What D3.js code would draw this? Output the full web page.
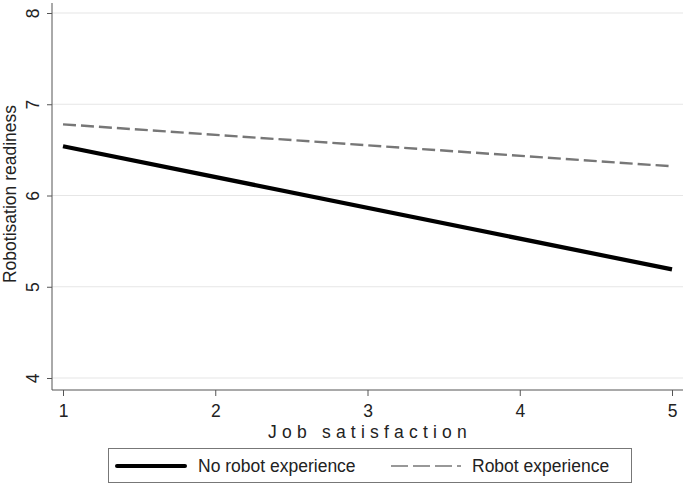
<!DOCTYPE html>
<html><head><meta charset="utf-8">
<script src="https://cdn.jsdelivr.net/npm/d3@7"></script>
<style>body{margin:0;background:#fff}svg{display:block}text{font-family:"Liberation Sans",Arial,sans-serif}</style>
</head><body>
<script>
const xTicks = [1, 2, 3, 4, 5];
const yTicks = [4, 5, 6, 7, 8];
const seriesNames = ["No robot experience", "Robot experience"];
const noRobot = [6.54, 5.19];
const robot = [6.78, 6.32];
const xEnds = [1, 5];

const W = 685, H = 485;
const FS = 17.5;
const svg = d3.select("body").append("svg").attr("width", W).attr("height", H);
const x = d3.scaleLinear().domain([1, 5]).range([63, 672]);
const y = d3.scaleLinear().domain([4, 8]).range([378, 13]);
const left = 52, bottom = 390, right = 683;

// gridlines
svg.append("g").selectAll("line").data(yTicks).join("line")
  .attr("x1", left).attr("x2", right).attr("y1", d => y(d)).attr("y2", d => y(d))
  .attr("stroke", "#e6e6e6").attr("stroke-width", 1.2);

// y axis
const ya = svg.append("g").attr("transform", `translate(${left},0)`)
  .call(d3.axisLeft(y).tickValues(yTicks).tickSize(5).tickFormat(d3.format("d")));
ya.select(".domain").attr("d", `M0,3V${bottom}`).attr("stroke", "#555");
ya.selectAll(".tick line").attr("stroke", "#555");
ya.selectAll(".tick text").attr("font-size", FS).attr("fill", "#222")
  .attr("transform", "rotate(-90)").attr("x", 0).attr("y", -13).attr("dy", "0")
  .attr("text-anchor", "middle");

// x axis
const xa = svg.append("g").attr("transform", `translate(0,${bottom})`)
  .call(d3.axisBottom(x).tickValues(xTicks).tickSize(6).tickFormat(d3.format("d")));
xa.select(".domain").attr("d", `M${left},0H${right}`).attr("stroke", "#555");
xa.selectAll(".tick line").attr("stroke", "#555");
xa.selectAll(".tick text").attr("font-size", FS).attr("fill", "#222").attr("y", 27).attr("dy", "0");

// titles
svg.append("text").attr("x", 370).attr("y", 438).attr("text-anchor", "middle")
  .attr("font-size", FS).attr("letter-spacing", "5.2px").attr("fill", "#222").text("Job satisfaction");
svg.append("text").attr("transform", `translate(16,${194}) rotate(-90)`).attr("text-anchor", "middle")
  .attr("font-size", FS).attr("fill", "#222").text("Robotisation readiness");

// lines
const line = d3.line().x((d, i) => x(xEnds[i])).y(d => y(d));
svg.append("path").datum(robot).attr("d", line).attr("fill", "none")
  .attr("stroke", "#777").attr("stroke-width", 2.4).attr("stroke-dasharray", "13,5");
svg.append("path").datum(noRobot).attr("d", line).attr("fill", "none")
  .attr("stroke", "#000").attr("stroke-width", 4.2);

// legend
const lg = svg.append("g");
lg.append("rect").attr("x", 108.5).attr("y", 448.5).attr("width", 523).attr("height", 34)
  .attr("fill", "#fff").attr("stroke", "#777").attr("stroke-width", 1);
lg.append("line").attr("x1", 117).attr("x2", 185).attr("y1", 466).attr("y2", 466)
  .attr("stroke", "#000").attr("stroke-width", 4).attr("stroke-linecap", "round");
lg.append("text").attr("x", 198).attr("y", 472).attr("font-size", FS).attr("fill", "#222").text(seriesNames[0]);
lg.append("line").attr("x1", 391).attr("x2", 461).attr("y1", 466).attr("y2", 466)
  .attr("stroke", "#777").attr("stroke-width", 1.5).attr("stroke-dasharray", "17,5");
lg.append("text").attr("x", 472).attr("y", 472).attr("font-size", FS).attr("fill", "#222").text(seriesNames[1]);
</script>
</body></html>
